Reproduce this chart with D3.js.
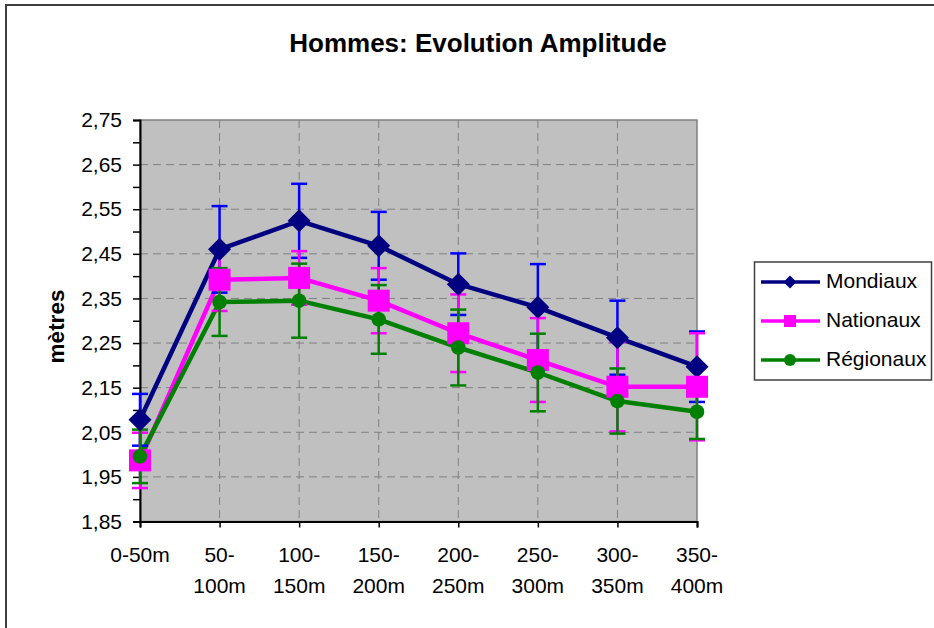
<!DOCTYPE html>
<html>
<head>
<meta charset="utf-8">
<script src="https://cdn.jsdelivr.net/npm/d3@7"></script>
<style>
  body { margin: 0; background: #fff; }
  svg { display: block; }
  text { font-family: "Liberation Sans", Arial, sans-serif; fill: #000; }
</style>
</head>
<body>
<svg id="chart" width="934" height="628"></svg>
<script>
// ---- data ----
const categories = ["0-50m", "50-100m", "100-150m", "150-200m", "200-250m", "250-300m", "300-350m", "350-400m"];
const categoryLabels = [["0-50m"], ["50-", "100m"], ["100-", "150m"], ["150-", "200m"], ["200-", "250m"], ["250-", "300m"], ["300-", "350m"], ["350-", "400m"]];
const seriesNames = ["Mondiaux", "Nationaux", "Régionaux"];
const mondiaux = [2.078, 2.460, 2.524, 2.468, 2.382, 2.330, 2.262, 2.197];
const mondiauxErr = [0.058, 0.097, 0.083, 0.076, 0.069, 0.097, 0.083, 0.079];
const nationaux = [1.987, 2.392, 2.396, 2.345, 2.272, 2.212, 2.152, 2.152];
const nationauxErr = [0.062, 0.070, 0.060, 0.073, 0.087, 0.094, 0.100, 0.120];
const regionaux = [1.996, 2.342, 2.345, 2.303, 2.240, 2.184, 2.120, 2.096];
const regionauxErr = [0.060, 0.076, 0.083, 0.077, 0.085, 0.087, 0.073, 0.061];
const yMajorTicks = [1.85, 1.95, 2.05, 2.15, 2.25, 2.35, 2.45, 2.55, 2.65, 2.75];
const yMinorTicks = [1.90, 2.00, 2.10, 2.20, 2.30, 2.40, 2.50, 2.60, 2.70];
const title = "Hommes: Evolution Amplitude";
const yTitle = "mètres";

// ---- styles ----
const styles = [
  { line: "#000080", err: "#0000FF", marker: "diamond" },
  { line: "#FF00FF", err: "#FF00FF", marker: "square" },
  { line: "#008000", err: "#008000", marker: "circle" }
];
const series = seriesNames.map((name, i) => ({
  name,
  values: [mondiaux, nationaux, regionaux][i],
  errs: [mondiauxErr, nationauxErr, regionauxErr][i],
  style: styles[i]
}));

const svg = d3.select("#chart");
const L = 140, R = 697, T = 120, B = 521.5;

svg.append("rect").attr("x", 6).attr("y", 5).attr("width", 940).attr("height", 640)
  .attr("fill", "#fff").attr("stroke", "#404040").attr("stroke-width", 2);

const x = d3.scalePoint().domain(categories).range([L, R]);
const y = d3.scaleLinear().domain([1.85, 2.75]).range([B, T]);

// plot area
svg.append("rect").attr("x", L).attr("y", T).attr("width", R - L).attr("height", B - T)
  .attr("fill", "#C0C0C0").attr("stroke", "#808080").attr("stroke-width", 1.5);

// grid
const grid = svg.append("g");
grid.selectAll("line.h").data(yMajorTicks.filter(v => v > 1.86 && v < 2.74)).join("line")
  .attr("x1", L).attr("x2", R).attr("y1", d => y(d)).attr("y2", d => y(d))
  .attr("stroke", "#808080").attr("stroke-width", 1).attr("stroke-dasharray", "8,5");
grid.selectAll("line.v").data(categories.slice(1, -1)).join("line")
  .attr("x1", d => x(d)).attr("x2", d => x(d)).attr("y1", T).attr("y2", B)
  .attr("stroke", "#808080").attr("stroke-width", 1).attr("stroke-dasharray", "8,5");

// axes
const fmt = d => d.toFixed(2).replace(".", ",");
const yAxis = svg.append("g").attr("transform", `translate(${L},0)`)
  .call(d3.axisLeft(y).tickValues(yMajorTicks).tickFormat(fmt).tickSize(7).tickPadding(11));
svg.append("g").attr("transform", `translate(${L},0)`)
  .call(d3.axisLeft(y).tickValues(yMinorTicks).tickFormat("").tickSize(7))
  .select(".domain").remove();
yAxis.selectAll("text").attr("font-size", 21).attr("font-family", '"Liberation Sans", Arial, sans-serif').attr("fill", "#000");
svg.selectAll(".tick line").attr("stroke", "#000").attr("stroke-width", 1.5);
yAxis.select(".domain").attr("stroke", "#000").attr("stroke-width", 2);

const xAxis = svg.append("g").attr("transform", `translate(0,${B})`)
  .call(d3.axisBottom(x).tickFormat("").tickSize(6));
xAxis.selectAll("line").attr("stroke", "#000").attr("stroke-width", 1.5);
xAxis.select(".domain").attr("stroke", "#000").attr("stroke-width", 2);

const xl = svg.append("g");
categories.forEach((c, i) => {
  const t = xl.append("text").attr("x", x(c)).attr("y", B + 40)
    .attr("text-anchor", "middle").attr("font-size", 21);
  categoryLabels[i].forEach((s, j) => {
    t.append("tspan").attr("x", x(c)).attr("dy", j === 0 ? 0 : 31).text(s);
  });
});

// titles
svg.append("text").attr("x", 478).attr("y", 52).attr("text-anchor", "middle")
  .attr("font-size", 26).attr("font-weight", "bold").text(title);
svg.append("text").attr("transform", "translate(64,326.5) rotate(-90)").attr("text-anchor", "middle")
  .attr("font-size", 22.5).attr("font-weight", "bold").text(yTitle);

// series lines
const line = d3.line().x((d, i) => x(categories[i])).y(d => y(d));
series.forEach(s => {
  svg.append("path").datum(s.values).attr("d", line)
    .attr("fill", "none").attr("stroke", s.style.line).attr("stroke-width", 4.5)
    .attr("stroke-linejoin", "round");
});

// error bars
series.forEach(s => {
  const g = svg.append("g").attr("stroke", s.style.err).attr("stroke-width", 2.5);
  s.values.forEach((v, i) => {
    const cx = x(categories[i]);
    const lo = y(v - s.errs[i]), hi = y(v + s.errs[i]);
    g.append("line").attr("x1", cx).attr("x2", cx).attr("y1", lo).attr("y2", hi);
    g.append("line").attr("x1", cx - 8).attr("x2", cx + 8).attr("y1", hi).attr("y2", hi);
    g.append("line").attr("x1", cx - 8).attr("x2", cx + 8).attr("y1", lo).attr("y2", lo);
  });
});

// markers
function marker(g, type, cx, cy, size, color) {
  if (type === "diamond") {
    g.append("path").attr("d", `M${cx},${cy - size}L${cx + size},${cy}L${cx},${cy + size}L${cx - size},${cy}Z`).attr("fill", color);
  } else if (type === "square") {
    g.append("rect").attr("x", cx - size).attr("y", cy - size).attr("width", 2 * size).attr("height", 2 * size).attr("fill", color);
  } else {
    g.append("circle").attr("cx", cx).attr("cy", cy).attr("r", size).attr("fill", color);
  }
}
const markerSize = { diamond: 11.5, square: 11, circle: 7.3 };
series.forEach(s => {
  const g = svg.append("g");
  s.values.forEach((v, i) => marker(g, s.style.marker, x(categories[i]), y(v), markerSize[s.style.marker], s.style.line));
});

// legend
const lg = svg.append("g");
lg.append("rect").attr("x", 754.5).attr("y", 262).attr("width", 177).attr("height", 118)
  .attr("fill", "#fff").attr("stroke", "#404040").attr("stroke-width", 1.5);
const legendMarkerSize = { diamond: 6.5, square: 6, circle: 6 };
series.forEach((s, i) => {
  const ly = 282 + i * 39;
  lg.append("line").attr("x1", 761).attr("x2", 820).attr("y1", ly).attr("y2", ly)
    .attr("stroke", s.style.line).attr("stroke-width", 3.5);
  marker(lg, s.style.marker, 790, ly, legendMarkerSize[s.style.marker], s.style.line);
  lg.append("text").attr("x", 826).attr("y", ly + 5.5).attr("font-size", 21).text(s.name);
});
</script>
</body>
</html>
